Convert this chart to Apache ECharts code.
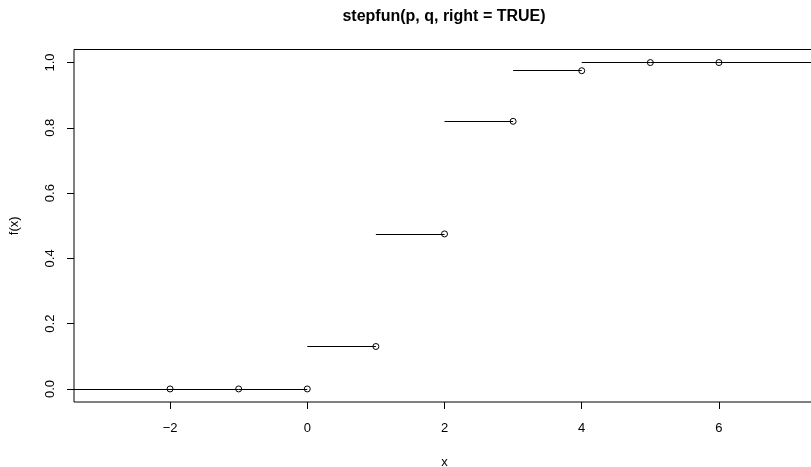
<!DOCTYPE html>
<html>
<head>
<meta charset="utf-8">
<script src="https://cdn.jsdelivr.net/npm/echarts@6/dist/echarts.min.js"></script>
<style>
  html, body { margin: 0; padding: 0; background: #fff; }
  #chart { width: 811px; height: 467px; }
</style>
</head>
<body>
<div id="chart"></div>
<script>
// Step function f(x), right-continuous on (x[i-1], x[i]]
const knots = [-2, -1, 0, 1, 2, 3, 4, 5, 6];
// level on each interval: (-inf,-2], (-2,-1], ..., (5,6], (6,inf)
const levels = [0, 0, 0, 0.13, 0.475, 0.82, 0.975, 1, 1, 1];

const xLimits = [-3.4, 7.4];
const yLimits = [-0.04, 1.04];
const xTicks = [-2, 0, 2, 4, 6];
const yTicks = [0, 0.2, 0.4, 0.6, 0.8, 1.0];

const titleText = 'stepfun(p, q, right = TRUE)';
const xName = 'x';
const yName = 'f(x)';

const FONT = '"Liberation Sans", Arial, Helvetica, sans-serif';

// horizontal pieces of the step function
const edges = [xLimits[0]].concat(knots, [xLimits[1]]);
const segments = levels.map((y, i) => ({ coords: [[edges[i], y], [edges[i + 1], y]] }));
// values at the knots, shown as open circles
const knotPoints = knots.map((x, i) => [x, levels[i]]);

const fmtNum = (v, digits) => {
  const s = digits === undefined ? String(v) : v.toFixed(digits);
  return s.replace('-', '\u2212');
};

const chart = echarts.init(document.getElementById('chart'), null, { renderer: 'canvas' });

chart.setOption({
  animation: false,
  backgroundColor: '#fff',
  textStyle: { fontFamily: FONT },
  grid: {
    left: 74, top: 49.5, right: -4, bottom: 65,
    outerBoundsMode: 'none', containLabel: false,
    show: true, borderColor: '#000', borderWidth: 1,
    backgroundColor: 'transparent'
  },
  graphic: [{
    type: 'text', x: 444, y: 17,
    style: {
      text: titleText, font: 'bold 16px ' + FONT, fill: '#000',
      textAlign: 'center', textVerticalAlign: 'middle'
    }
  }],
  xAxis: {
    type: 'value', min: xLimits[0], max: xLimits[1],
    name: xName, nameLocation: 'middle', nameGap: 54,
    nameTextStyle: { fontSize: 13, color: '#000', fontFamily: FONT },
    splitLine: { show: false },
    axisLine: { show: false, onZero: false },
    axisTick: { show: true, length: 7, customValues: xTicks, lineStyle: { color: '#000', width: 1 } },
    axisLabel: {
      customValues: xTicks, margin: 20, fontSize: 13, color: '#000', fontFamily: FONT,
      formatter: v => fmtNum(v)
    }
  },
  yAxis: {
    type: 'value', min: yLimits[0], max: yLimits[1],
    name: yName, nameLocation: 'middle', nameGap: 53, nameRotate: 90,
    nameTextStyle: { fontSize: 13, color: '#000', fontFamily: FONT },
    splitLine: { show: false },
    axisLine: { show: false, onZero: false },
    axisTick: { show: true, length: 7, customValues: yTicks, lineStyle: { color: '#000', width: 1 } },
    axisLabel: {
      customValues: yTicks, margin: 17, rotate: 90, fontSize: 13, color: '#000', fontFamily: FONT,
      formatter: v => fmtNum(v, 1)
    }
  },
  series: [
    {
      type: 'lines', coordinateSystem: 'cartesian2d', polyline: false,
      data: segments,
      lineStyle: { color: '#000', width: 1, opacity: 1 },
      silent: true, z: 2
    },
    {
      type: 'scatter', data: knotPoints,
      symbol: 'circle', symbolSize: 6,
      itemStyle: { color: 'rgba(0,0,0,0)', borderColor: '#000', borderWidth: 1, opacity: 1 },
      silent: true, z: 3
    }
  ]
});
</script>
</body>
</html>
